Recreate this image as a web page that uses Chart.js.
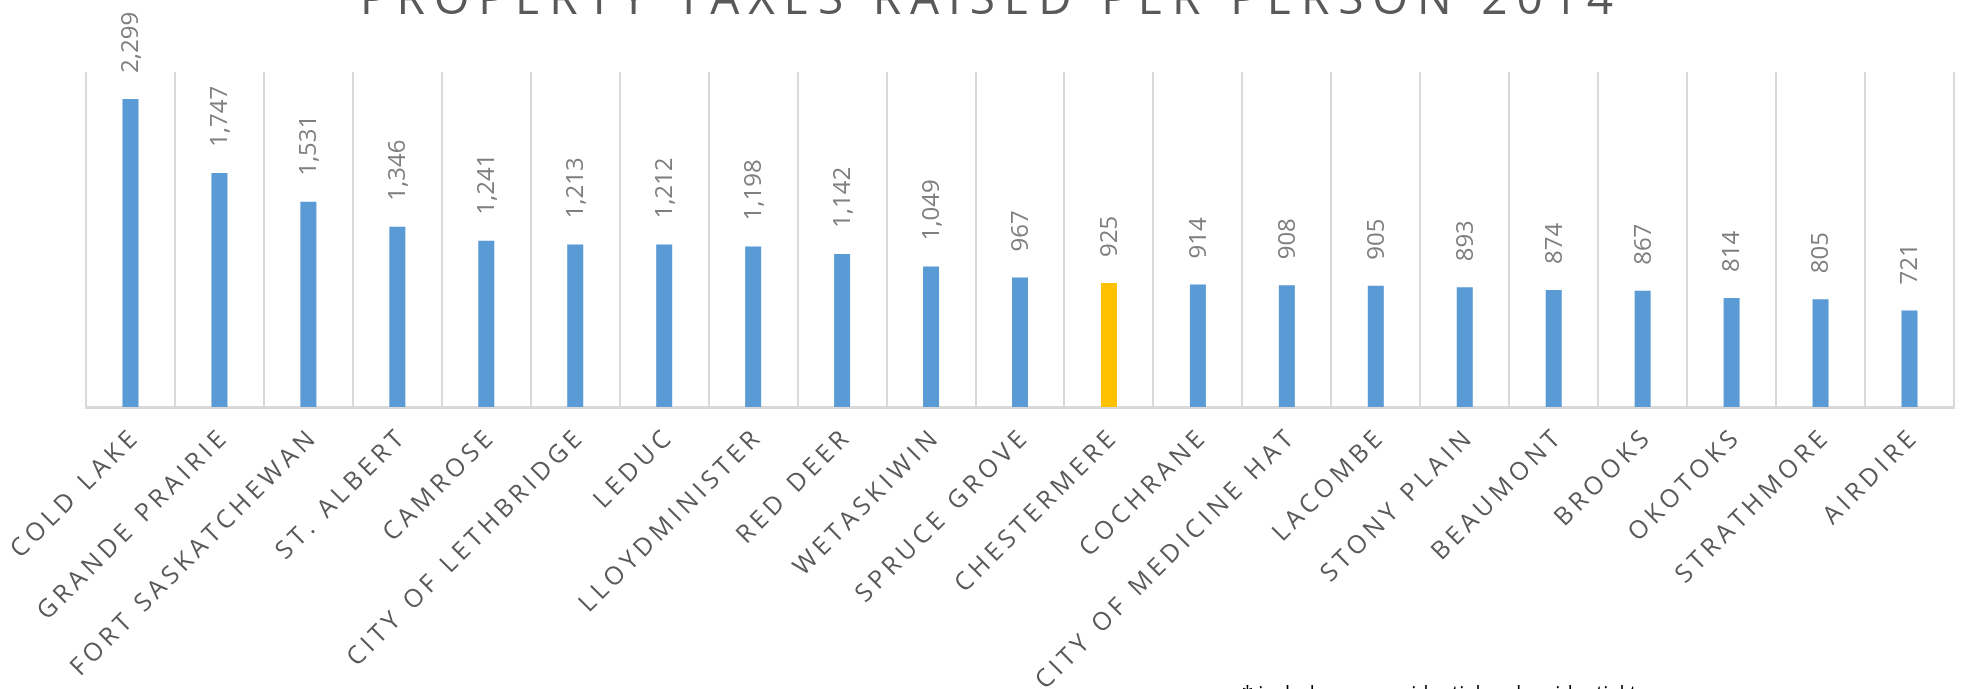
<!DOCTYPE html>
<html>
<head>
<meta charset="utf-8">
<title>Property taxes raised per person 2014</title>
<script src="https://cdn.jsdelivr.net/npm/chart.js@4.4.1/dist/chart.umd.min.js"></script>
<style>
  html, body { margin: 0; padding: 0; background: #fff; overflow: hidden; }
  canvas { display: block; }
</style>
</head>
<body>
<canvas id="chart" width="1963" height="689"></canvas>
<script>
// chart data
const towns = [
  'COLD LAKE', 'GRANDE PRAIRIE', 'FORT SASKATCHEWAN', 'ST. ALBERT', 'CAMROSE',
  'CITY OF LETHBRIDGE', 'LEDUC', 'LLOYDMINISTER', 'RED DEER', 'WETASKIWIN',
  'SPRUCE GROVE', 'CHESTERMERE', 'COCHRANE', 'CITY OF MEDICINE HAT', 'LACOMBE',
  'STONY PLAIN', 'BEAUMONT', 'BROOKS', 'OKOTOKS', 'STRATHMORE', 'AIRDIRE'
];
const taxPerPerson = [
  2299, 1747, 1531, 1346, 1241, 1213, 1212, 1198, 1142, 1049,
  967, 925, 914, 908, 905, 893, 874, 867, 814, 805, 721
];
const highlightTown = 'CHESTERMERE';
const chartTitle = 'PROPERTY TAXES RAISED PER PERSON 2014';
const footnote = '* includes non residential and residential taxes';

const BLUE = '#5B9BD5';
const GOLD = '#FFC000';
const GRID = '#D9D9D9';

// draws the rotated value labels, the slanted town names, the title and the note
const textPlugin = {
  id: 'textPlugin',
  afterDraw(chart) {
    const ctx = chart.ctx;
    const meta = chart.getDatasetMeta(0);
    const xScale = chart.scales.x;
    const axisY = chart.chartArea.bottom;

    // values above the bars, turned 90 degrees
    ctx.save();
    ctx.font = '24px "Open Sans", sans-serif';
    ctx.fillStyle = '#7F7F7F';
    ctx.textAlign = 'left';
    ctx.textBaseline = 'middle';
    meta.data.forEach((bar, i) => {
      ctx.save();
      ctx.translate(bar.x + 1, bar.y - 26);
      ctx.rotate(-Math.PI / 2);
      ctx.fillText(taxPerPerson[i].toLocaleString('en-US'), 0, 0);
      ctx.restore();
    });
    ctx.restore();

    // town names at 45 degrees
    ctx.save();
    ctx.font = '25px "Open Sans", sans-serif';
    ctx.fillStyle = '#595959';
    ctx.letterSpacing = '4.5px';
    ctx.textAlign = 'right';
    ctx.textBaseline = 'top';
    towns.forEach((name, i) => {
      const x = xScale.getPixelForValue(i);
      ctx.save();
      ctx.translate(x - 6, axisY + 20);
      ctx.rotate(-Math.PI / 4);
      ctx.fillText(name, 4.5, 0);
      ctx.restore();
    });
    ctx.restore();

    // title, partly above the top edge like the original
    ctx.save();
    ctx.font = '46px "Open Sans", sans-serif';
    ctx.fillStyle = '#595959';
    ctx.textAlign = 'left';
    ctx.textBaseline = 'alphabetic';
    ctx.letterSpacing = '0px';
    const plain = ctx.measureText(chartTitle).width;
    const spacing = (1253 - plain) / (chartTitle.length - 1);
    ctx.letterSpacing = spacing + 'px';
    ctx.fillText(chartTitle, 360, 14);
    ctx.restore();

    // footnote, cut by the bottom edge
    ctx.save();
    ctx.font = '20px "Open Sans", sans-serif';
    ctx.fillStyle = '#000000';
    ctx.textAlign = 'left';
    ctx.textBaseline = 'alphabetic';
    ctx.fillText(footnote, 1242, 700);
    ctx.restore();
  }
};

const ctx = document.getElementById('chart').getContext('2d');
new Chart(ctx, {
  type: 'bar',
  data: {
    labels: towns,
    datasets: [{
      label: 'Property tax per person',
      data: taxPerPerson,
      backgroundColor: towns.map(t => (t === highlightTown ? GOLD : BLUE)),
      borderWidth: 0,
      barPercentage: 0.18,
      categoryPercentage: 1
    }]
  },
  options: {
    responsive: false,
    devicePixelRatio: 1,
    animation: false,
    layout: { padding: { left: 86, right: 9, top: 72, bottom: 282 } },
    plugins: {
      legend: { display: false },
      title: { display: false },
      tooltip: { enabled: false }
    },
    scales: {
      x: {
        offset: true,
        grid: { color: GRID, lineWidth: 2, offset: true, drawTicks: false },
        border: { color: GRID, width: 3 },
        ticks: { display: false }
      },
      y: {
        display: false,
        min: 0,
        max: 2500
      }
    }
  },
  plugins: [textPlugin]
});
</script>
</body>
</html>
